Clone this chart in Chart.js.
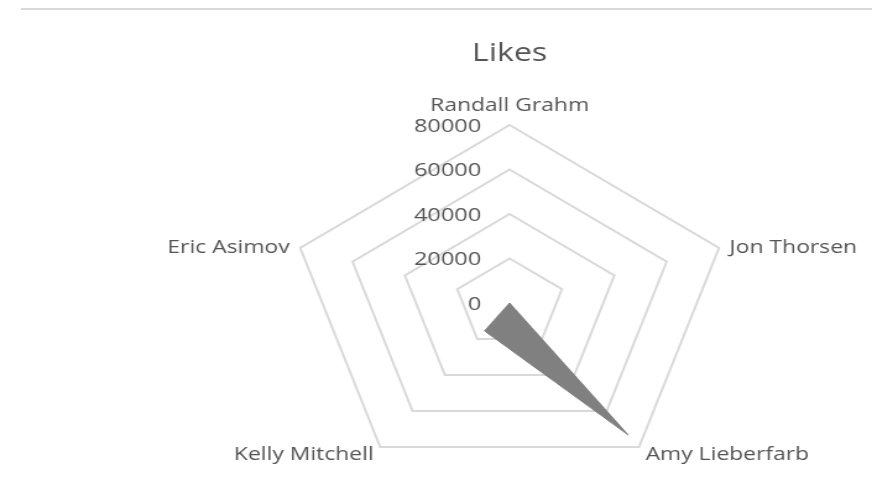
<!DOCTYPE html>
<html lang="en">
<head>
<meta charset="UTF-8">
<title>Likes</title>
<script src="https://cdn.jsdelivr.net/npm/chart.js"></script>
<style>
  body {
    margin: 0;
    padding: 0;
    width: 872px;
    height: 477px;
    overflow: hidden;
    position: relative;
    background: #ffffff;
  }
  /* thin rule along the top edge */
  .topline {
    position: absolute;
    left: 21px;
    top: 8px;
    width: 851px;
    height: 2px;
    background: #d9d9d9;
  }
  /* chart is drawn narrow and stretched out sideways */
  .chart-box {
    position: absolute;
    left: 0;
    top: 0;
    width: 705px;
    height: 540px;
    transform: scaleX(1.2369);
    transform-origin: 0 0;
  }
</style>
</head>
<body>
<div class="topline"></div>
<div class="chart-box"><canvas id="likesChart" width="705" height="540"></canvas></div>

<script>
const people = ['Randall Grahm', 'Jon Thorsen', 'Amy Lieberfarb', 'Kelly Mitchell', 'Eric Asimov'];
const likes = [0, 0, 73400, 15500, 0];
const tickValues = [0, 20000, 40000, 60000, 80000];

const textColor = '#545454';

// value labels sit left of the top spoke, names sit outside the outer ring
const labelPlugin = {
    id: 'radarLabels',
    afterDraw(chart) {
        const scale = chart.scales.r;
        const ctx = chart.ctx;
        const R = scale.drawingArea;
        ctx.save();
        ctx.fillStyle = textColor;

        ctx.font = '19px "Open Sans"';
        ctx.textAlign = 'right';
        ctx.textBaseline = 'middle';
        tickValues.forEach(v => {
            const y = scale.yCenter - scale.getDistanceFromCenterForValue(v);
            ctx.fillText(String(v), scale.xCenter - 23, y + 1.5);
        });

        ctx.font = '18.5px "Open Sans"';
        people.forEach((name, i) => {
            const out = scale.getPointPosition(i, R + 9);
            const edge = scale.getPointPosition(i, R);
            const dx = out.x - scale.xCenter;
            let y = out.y;
            if (Math.abs(dx) < 1) {
                ctx.textAlign = 'center';
                y -= 10;
            } else {
                ctx.textAlign = dx > 0 ? 'left' : 'right';
                if (edge.y < scale.yCenter) y = edge.y;
            }
            ctx.fillText(name, out.x, y);
        });
        ctx.restore();
    }
};

Chart.defaults.font.family = '"Open Sans", sans-serif';

new Chart(document.getElementById('likesChart').getContext('2d'), {
    type: 'radar',
    data: {
        labels: people,
        datasets: [{
            label: 'Likes',
            data: likes,
            backgroundColor: '#808080',
            borderColor: '#808080',
            borderWidth: 1,
            pointRadius: 0,
            fill: true
        }]
    },
    options: {
        responsive: false,
        animation: false,
        layout: {
            padding: { top: 0, left: 234, right: 115, bottom: 3 }
        },
        plugins: {
            legend: { display: false },
            tooltip: { enabled: false },
            title: {
                display: true,
                text: 'Likes',
                color: textColor,
                font: { size: 26, weight: 'normal' },
                padding: { top: 38, bottom: 0 }
            }
        },
        scales: {
            r: {
                min: tickValues[0],
                max: tickValues[tickValues.length - 1],
                ticks: { display: false, stepSize: tickValues[1] - tickValues[0] },
                pointLabels: { display: false },
                angleLines: { display: false },
                grid: { color: '#d9d9d9', lineWidth: 2 }
            }
        }
    },
    plugins: [labelPlugin]
});
</script>
</body>
</html>
